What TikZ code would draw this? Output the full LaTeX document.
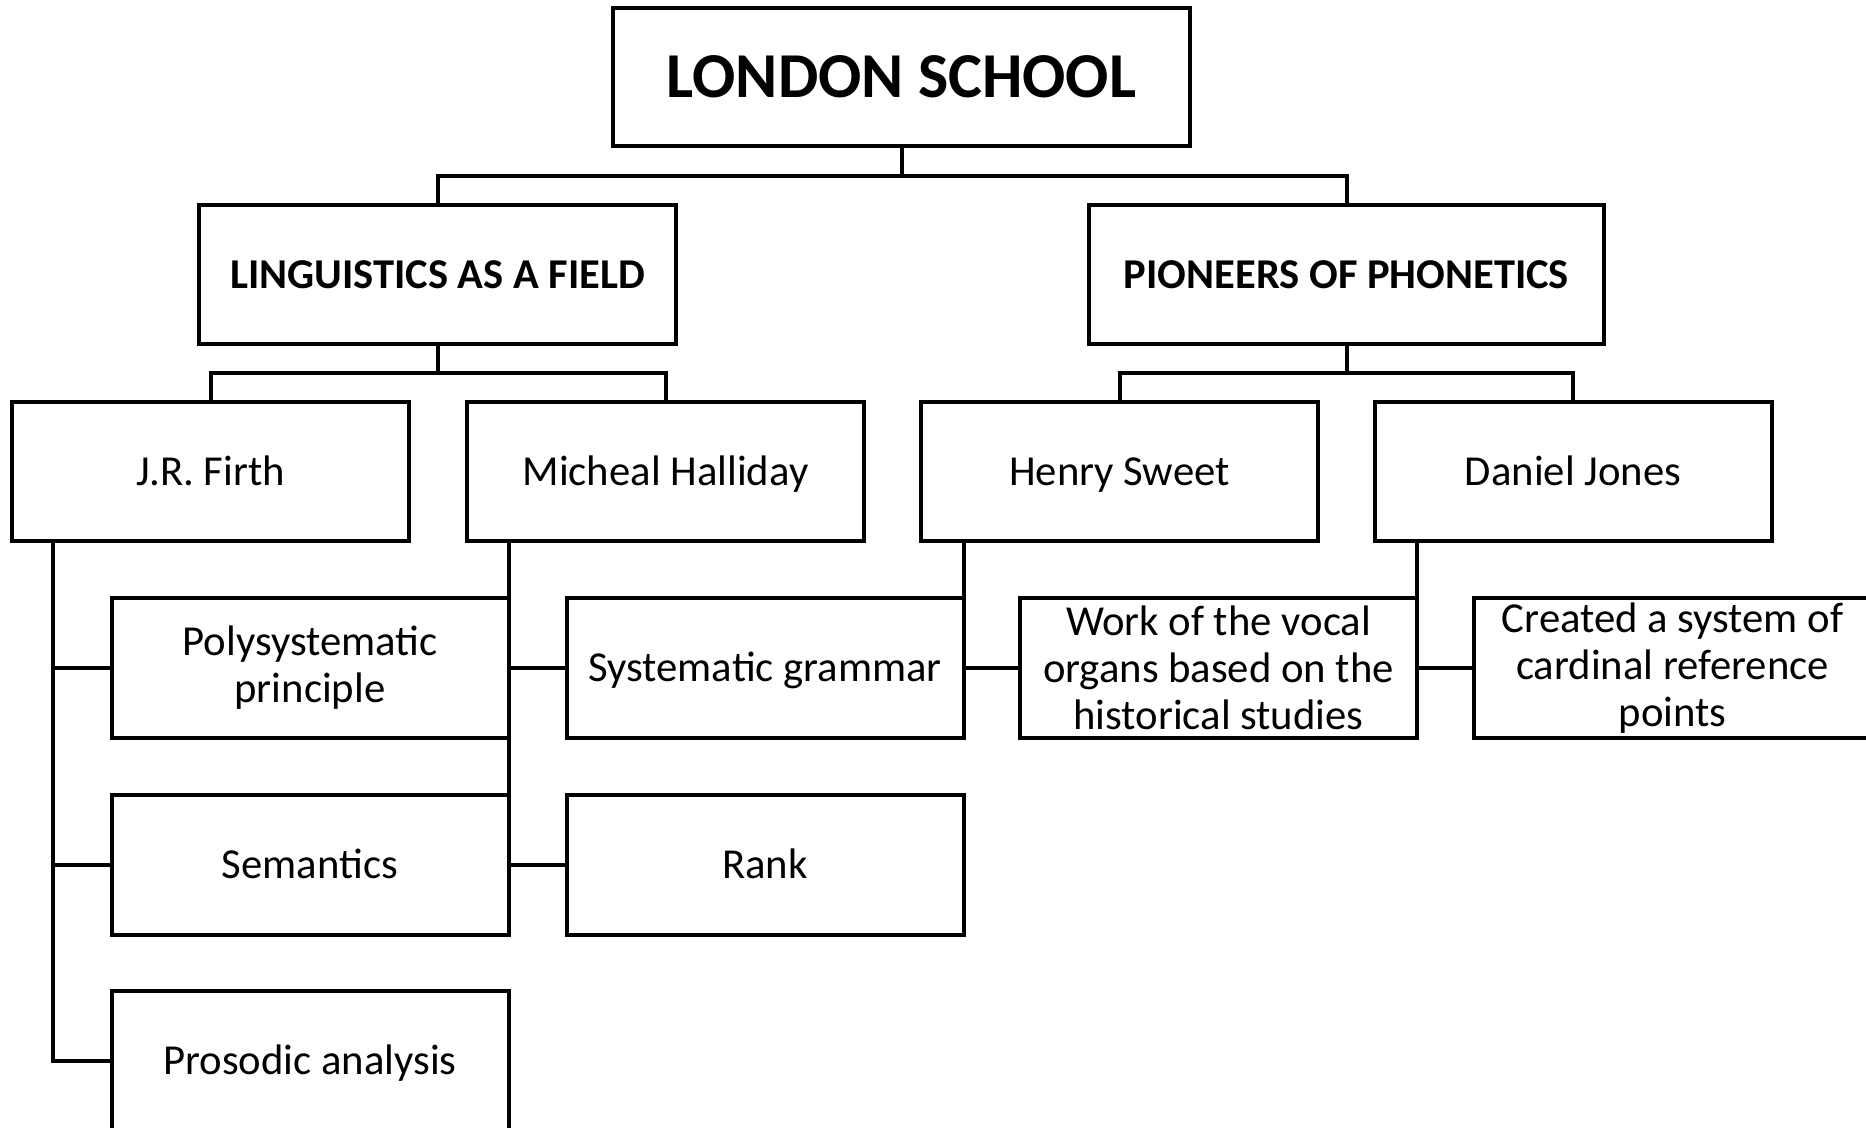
\documentclass[tikz,border=0pt]{standalone}
\usepackage{fontspec}
\setmainfont{Carlito}
\begin{document}
\begin{tikzpicture}[x=0.5pt,y=-0.5pt,
  box/.style={draw=black,line width=2pt,rectangle,inner sep=0pt,outer sep=0pt,align=center,
    minimum width=198.5pt,minimum height=69.5pt,font=\fontsize{21.35}{23.4}\selectfont},
  single/.style={text height=13.6pt,text depth=0pt},
  headbox/.style={box,single,font=\fontsize{21.25}{24}\selectfont\bfseries,minimum height=69.5pt},
  titlebox/.style={box,font=\fontsize{32}{38}\selectfont\bfseries,minimum width=288.5pt,minimum height=69pt},
  conn/.style={draw=black,line width=2pt,line join=miter}]
\fill[white] (0,0) rectangle (1866,1128);
\clip (0,0) rectangle (1866,1128);
% nodes
\node[titlebox] (ls) at (901.5,77) {LONDON SCHOOL};
\node[headbox,minimum width=238.5pt] (lf) at (437.5,274.5) {LINGUISTICS AS A FIELD};
\node[headbox,minimum width=257.5pt] (pp) at (1346.5,274.5) {PIONEERS OF PHONETICS};
\node[box,single] (jr) at (210.5,471.5) {J.R. Firth};
\node[box,single] (mh) at (665.5,471.5) {Micheal Halliday};
\node[box,single] (hs) at (1119.5,471.5) {Henry Sweet};
\node[box,single] (dj) at (1573,471.5) {Daniel Jones};
\node[box,minimum height=70pt] (ps) at (310,668) {Polysystematic\\principle};
\node[box,single,minimum height=70pt] (sg) at (765,668) {Systematic grammar};
\node[box,minimum height=70pt] (wv) at (1218.5,668) {Work of the vocal\\organs based on the\\historical studies};
\node[box,minimum height=70pt] (cs) at (1672.5,668) {Created a system of\\cardinal reference\\points};
\node[box,single,minimum height=70pt] (se) at (310,864.5) {Semantics};
\node[box,single,minimum height=70pt] (rk) at (765,864.5) {Rank};
\node[box,single,minimum height=70pt] (pa) at (310,1060.5) {Prosodic analysis};
% level 1 connectors
\coordinate (b0) at (901.5,176);
\draw[conn] (ls.south) -- (b0);
\draw[conn] (lf.north) |- (b0) -| (pp.north);
% level 2 connectors
\coordinate (b1) at (437.5,373);
\draw[conn] (lf.south) -- (b1);
\draw[conn] (jr.north) |- (b1) -| (mh.north);
\coordinate (b2) at (1346.5,373);
\draw[conn] (pp.south) -- (b2);
\draw[conn] (hs.north) |- (b2) -| (dj.north);
% trunks
\coordinate (t1) at ([xshift=20.5pt]jr.south west);
\draw[conn] (t1) |- (pa.west);
\draw[conn] (t1 |- ps.west) -- (ps.west);
\draw[conn] (t1 |- se.west) -- (se.west);
\coordinate (t2) at (ps.east |- mh.south);
\draw[conn] (t2) |- (rk.west);
\draw[conn] (ps.east) -- (sg.west);
\coordinate (t3) at (sg.east |- hs.south);
\draw[conn] (t3) |- (wv.west);
\coordinate (t4) at (wv.east |- dj.south);
\draw[conn] (t4) |- (cs.west);
\end{tikzpicture}
\end{document}
